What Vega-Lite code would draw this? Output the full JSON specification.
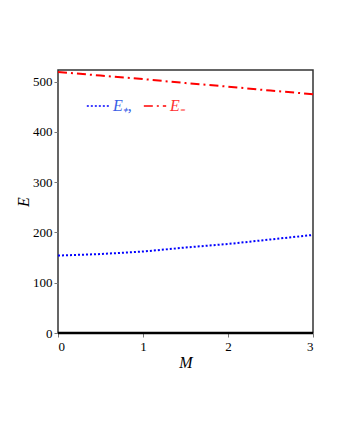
{
  "$schema": "https://vega.github.io/schema/vega-lite/v6.json",
  "width": 255,
  "height": 263,
  "autosize": "none",
  "padding": {"left": 58, "top": 70, "right": 27, "bottom": 107},
  "background": "white",
  "config": {
    "font": "Liberation Serif",
    "view": {"stroke": "#333333", "strokeWidth": 1.5},
    "axis": {"labelFont": "Times New Roman, Liberation Serif, serif", "labelFontSize": 13, "labelColor": "black", "titleFont": "Liberation Serif", "titleFontStyle": "italic", "titleFontWeight": "normal", "titleFontSize": 16, "titleColor": "black", "grid": false, "domain": false, "tickColor": "#777777"}
  },
  "datasets": {
    "curves": [
      {"M": 0, "E": 154, "s": "E₊,"},
      {"M": 0.5, "E": 157, "s": "E₊,"},
      {"M": 1, "E": 162, "s": "E₊,"},
      {"M": 1.5, "E": 170, "s": "E₊,"},
      {"M": 2, "E": 177, "s": "E₊,"},
      {"M": 2.5, "E": 186, "s": "E₊,"},
      {"M": 3, "E": 195, "s": "E₊,"},
      {"M": 0, "E": 519, "s": "E₋"},
      {"M": 0.5, "E": 512, "s": "E₋"},
      {"M": 1, "E": 505, "s": "E₋"},
      {"M": 1.5, "E": 497, "s": "E₋"},
      {"M": 2, "E": 490, "s": "E₋"},
      {"M": 2.5, "E": 482, "s": "E₋"},
      {"M": 3, "E": 475, "s": "E₋"}
    ],
    "zero": [
      {"M": 0, "E": 0},
      {"M": 3, "E": 0}
    ]
  },
  "layer": [
    {
      "data": {"name": "zero"},
      "mark": {"type": "line", "color": "black", "strokeWidth": 2.5, "clip": false},
      "encoding": {
        "x": {"field": "M", "type": "quantitative", "scale": {"domain": [0, 3], "nice": false}, "title": "M",
          "axis": {"values": [0, 0.5, 1, 1.5, 2, 2.5, 3], "format": "d", "labelExpr": "datum.value % 1 === 0 ? datum.label : ''", "tickSize": {"condition": {"test": "datum.value % 1 === 0", "value": 4}, "value": 2}, "labelPadding": 3, "titlePadding": 1}},
        "y": {"field": "E", "type": "quantitative", "scale": {"domain": [0, 523], "nice": false}, "title": "E",
          "axis": {"values": [0, 50, 100, 150, 200, 250, 300, 350, 400, 450, 500], "format": "d", "labelExpr": "datum.value % 100 === 0 ? datum.label : ''", "tickSize": {"condition": {"test": "datum.value % 100 === 0", "value": 4}, "value": 2}, "titlePadding": 1}}
      }
    },
    {
      "data": {"name": "curves"},
      "mark": {"type": "line", "strokeWidth": 2},
      "encoding": {
        "x": {"field": "M", "type": "quantitative"},
        "y": {"field": "E", "type": "quantitative"},
        "color": {"field": "s", "type": "nominal", "scale": {"domain": ["E₊,", "E₋"], "range": ["#0000ff", "#ff0000"]},
          "legend": {"title": null, "orient": "none", "legendX": 28, "legendY": 24, "direction": "horizontal", "symbolType": "stroke", "symbolSize": 500, "symbolStrokeWidth": 1.5, "labelFont": "Liberation Serif", "labelFontStyle": "italic", "labelFontSize": 16, "columnPadding": 8, "labelOffset": 3,
            "encode": {"labels": {"update": {"fill": {"signal": "datum.value === 'E₊,' ? '#3a5ee6' : '#ff3030'"}}}}}},
        "strokeDash": {"field": "s", "type": "nominal", "scale": {"domain": ["E₊,", "E₋"], "range": [[2, 2], [9, 4, 2, 4]]}, "legend": null}
      }
    }
  ]
}
